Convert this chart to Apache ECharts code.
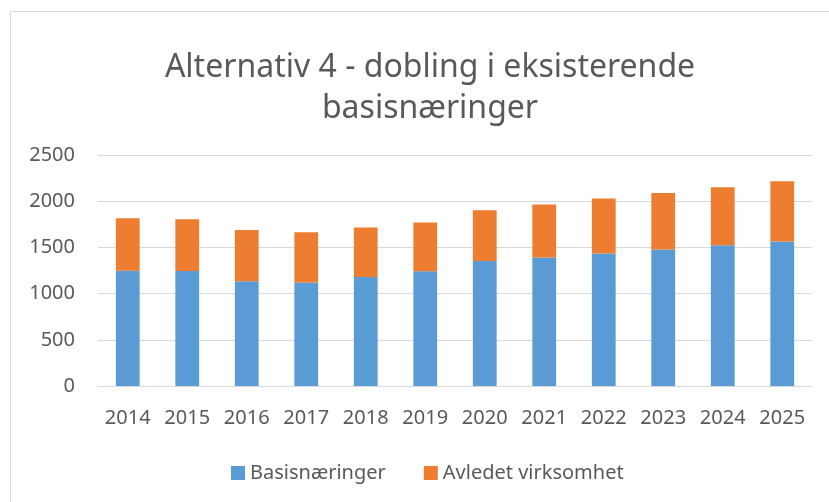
<!DOCTYPE html>
<html>
<head>
<meta charset="utf-8">
<script src="https://cdn.jsdelivr.net/npm/echarts@6/dist/echarts.min.js"></script>
<style>
  html, body { margin: 0; padding: 0; background: #fff; }
  #chart { width: 829px; height: 502px; }
</style>
</head>
<body>
<div id="chart"></div>
<script>
const years = ['2014', '2015', '2016', '2017', '2018', '2019', '2020', '2021', '2022', '2023', '2024', '2025'];
const basisnaeringer = [1248, 1245, 1133, 1119, 1180, 1241, 1352, 1392, 1435, 1478, 1522, 1565];
const avledet = [568, 561, 554, 546, 536, 529, 551, 572, 594, 612, 629, 651];
const yTicks = [0, 500, 1000, 1500, 2000, 2500];

const font = '"Noto Sans", sans-serif';
const chart = echarts.init(document.getElementById('chart'));

chart.setOption({
    animation: false,
    textStyle: { fontFamily: font },
    title: {
        text: 'Alternativ 4 - dobling i eksisterende\nbasisnæringer',
        left: 425,
        textAlign: 'center',
        top: 42,
        textStyle: { fontFamily: font, fontSize: 32, fontWeight: 'normal', color: '#595959', lineHeight: 41 }
    },
    graphic: [{
        type: 'rect',
        shape: { x: 10.5, y: 11.5, width: 840, height: 520 },
        style: { fill: 'none', stroke: '#d9d9d9', lineWidth: 1 },
        silent: true
    }],
    legend: {
        top: 458,
        left: 226,
        itemWidth: 14,
        itemHeight: 14,
        itemGap: 38,
        icon: 'rect',
        textStyle: { fontFamily: font, fontSize: 20, color: '#595959' },
        data: ['Basisnæringer', 'Avledet virksomhet']
    },
    grid: { left: 98, right: 17, top: 155, bottom: 116 },
    xAxis: {
        type: 'category',
        data: years,
        axisLine: { lineStyle: { color: '#d9d9d9' } },
        axisTick: { show: false },
        axisLabel: { fontFamily: font, fontSize: 20, color: '#595959', margin: 22 }
    },
    yAxis: {
        type: 'value',
        min: yTicks[0],
        max: yTicks[yTicks.length - 1],
        interval: 500,
        axisLine: { show: false },
        axisTick: { show: false },
        splitLine: { lineStyle: { color: '#d9d9d9' } },
        axisLabel: { fontFamily: font, fontSize: 20, color: '#595959', margin: 23, formatter: v => String(v) }
    },
    series: [
        {
            name: 'Basisnæringer',
            type: 'bar',
            stack: 'total',
            barWidth: '40%',
            itemStyle: { color: '#5b9bd5' },
            data: basisnaeringer
        },
        {
            name: 'Avledet virksomhet',
            type: 'bar',
            stack: 'total',
            barWidth: '40%',
            itemStyle: { color: '#ed7d31' },
            data: avledet
        }
    ]
});
</script>
</body>
</html>
